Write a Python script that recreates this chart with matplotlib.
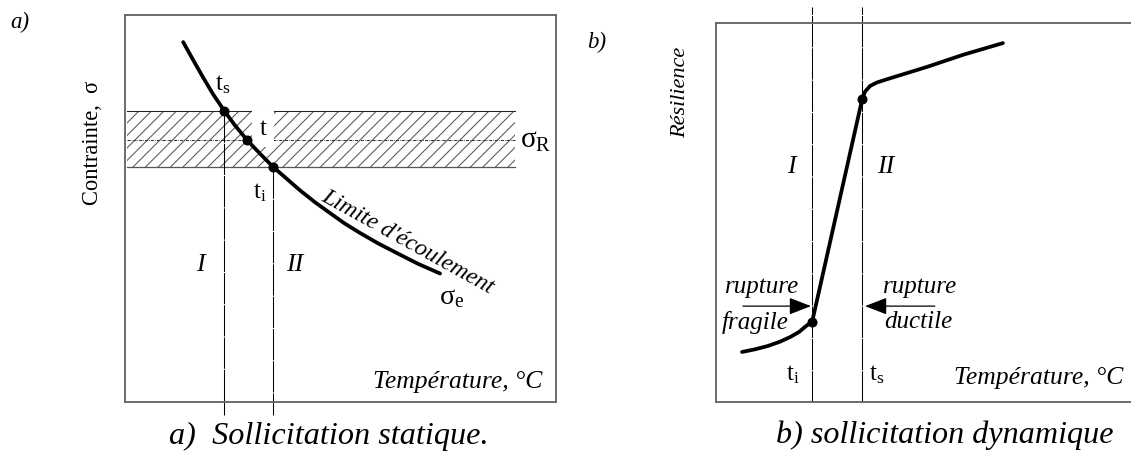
import matplotlib
matplotlib.use('Agg')
import matplotlib.pyplot as plt
from matplotlib.patches import Rectangle

plt.rcParams['font.family'] = ['Liberation Serif', 'DejaVu Serif']
plt.rcParams['mathtext.fontset'] = 'custom'
plt.rcParams['mathtext.rm'] = 'Liberation Serif'
plt.rcParams['mathtext.it'] = 'Liberation Serif:italic'
plt.rcParams['hatch.linewidth'] = 0.5

# ---------------- Panel a : static loading ----------------
temp_a = [13.5, 15.8, 18.1, 20.4, 23.0, 25.5, 28.3, 31.3, 34.3, 37.4, 40.6, 44.1,
          47.6, 51.0, 54.5, 58.7, 62.7, 68.0, 73.1]
stress_a = [93.0, 88.4, 83.9, 79.6, 75.3, 71.5, 67.7, 64.2, 60.8, 57.8, 54.7, 51.6,
            48.8, 46.1, 43.7, 41.0, 38.7, 35.7, 33.2]
band_low, band_high = 60.8, 75.3
sigma_R = 67.7
band_x = [0.5, 90.5]
t_temp_a = [23.0, 28.3, 34.3]      # t_s, t, t_i
t_stress_a = [75.3, 67.7, 60.8]

# ---------------- Panel b : dynamic loading ----------------
temp_b = [6.2, 9.3, 12.4, 15.2, 17.6, 19.8, 21.4, 22.9, 34.8, 35.5, 36.7, 38.3,
          41.4, 50.2, 58.8, 68.3]
resil_b = [13.2, 13.9, 14.8, 15.9, 17.1, 18.5, 20.0, 21.2, 79.9, 81.9, 83.4, 84.3,
           85.4, 88.4, 91.6, 94.7]
t_i_b, t_s_b = 22.9, 34.8
pts_b_temp = [22.9, 34.8]
pts_b_res = [21.2, 79.9]

W, H, DPI = 1131, 453, 150
fig = plt.figure(figsize=(W / DPI, H / DPI), dpi=DPI)


def rect(l, t, r, b):
    return [l / W, 1 - b / H, (r - l) / W, (b - t) / H]


axA = fig.add_axes(rect(125, 15, 556, 402))
axB = fig.add_axes(rect(716, 23, 1136, 402))
for ax in (axA, axB):
    ax.set_xlim(0, 100)
    ax.set_ylim(0, 100)
    ax.set_xticks([])
    ax.set_yticks([])
    for s in ax.spines.values():
        s.set_color('#666666')
        s.set_linewidth(0.9)

# ---- panel a drawing
axA.add_patch(Rectangle((band_x[0], band_low), band_x[1] - band_x[0], band_high - band_low,
                        fill=False, hatch='////', edgecolor='#555555', linewidth=0, zorder=1))
axA.plot(band_x, [band_high, band_high], color='#222222', lw=0.5, zorder=2)
axA.plot(band_x, [band_low, band_low], color='#555555', lw=0.6, zorder=2)
axA.plot(band_x, [sigma_R, sigma_R], color='#333333', lw=0.5, ls=(0, (3, 1, 0.6, 1)), zorder=2)
axA.plot(temp_a, stress_a, color='black', lw=1.8, solid_capstyle='round',
         solid_joinstyle='round', zorder=4)
axA.plot(t_temp_a, t_stress_a, 'o', color='black', ms=3.8, zorder=5)
axA.plot([t_temp_a[0]] * 2, [t_stress_a[0], -3.4], color='black', lw=0.5,
         ls=(0, (30, 1)), clip_on=False)
axA.plot([t_temp_a[2]] * 2, [t_stress_a[2], -3.4], color='black', lw=0.5,
         ls=(0, (30, 1)), clip_on=False)

axA.text(22.7, 81.9, r'$\mathrm{t}_{\mathrm{s}}$', fontsize=12, ha='center', va='center')
axA.text(32.0, 70.6, 't', fontsize=12, ha='center', va='center', zorder=3,
         bbox=dict(facecolor='white', edgecolor='none', pad=3.5))
axA.text(31.3, 54.0, r'$\mathrm{t}_{\mathrm{i}}$', fontsize=12, ha='center', va='center')
axA.text(91.6, 67.4, r'$\mathrm{σ}_{\mathrm{R}}$', fontsize=14, ha='left', va='center')
axA.text(75.9, 27.1, r'$\mathrm{σ}_{\mathrm{e}}$', fontsize=13.5, ha='center', va='center')
axA.text(17.4, 35.4, 'I', fontsize=12.5, style='italic', ha='center', va='center')
axA.text(39.4, 35.4, 'II', fontsize=12.5, style='italic', ha='center', va='center')
axA.text(65.6, 41.4, "Limite d'écoulement", fontsize=11.5, style='italic',
         ha='center', va='center', rotation=-29, rotation_mode='anchor')
axA.text(96.8, 5.2, 'Température, °C', fontsize=12.3, style='italic', ha='right', va='center')

# ---- panel b drawing
for tx in (t_i_b, t_s_b):
    axB.plot([tx, tx], [0, 104.2], color='black', lw=0.5, ls=(0, (30, 1)), clip_on=False)
axB.plot(temp_b, resil_b, color='black', lw=1.8, solid_capstyle='round',
         solid_joinstyle='round', zorder=4)
axB.plot(pts_b_temp, pts_b_res, 'o', color='black', ms=3.8, zorder=5)
axB.annotate('', xy=(22.6, 25.3), xytext=(6.4, 25.3),
             arrowprops=dict(arrowstyle='-|>,head_length=0.9,head_width=0.35',
                             color='black', lw=0.6, shrinkA=0, shrinkB=0))
axB.annotate('', xy=(35.5, 25.3), xytext=(52.1, 25.3),
             arrowprops=dict(arrowstyle='-|>,head_length=0.9,head_width=0.35',
                             color='black', lw=0.6, shrinkA=0, shrinkB=0))
axB.text(11.0, 30.3, 'rupture', fontsize=12, style='italic', ha='center', va='center')
axB.text(9.3, 21.1, 'fragile', fontsize=12, style='italic', ha='center', va='center')
axB.text(48.6, 30.3, 'rupture', fontsize=12, style='italic', ha='center', va='center')
axB.text(48.1, 21.1, 'ductile', fontsize=12, style='italic', ha='center', va='center')
axB.text(17.9, 62.0, 'I', fontsize=12.5, style='italic', ha='center', va='center')
axB.text(40.5, 62.0, 'II', fontsize=12.5, style='italic', ha='center', va='center')
axB.text(18.3, 7.1, r'$\mathrm{t}_{\mathrm{i}}$', fontsize=12, ha='center', va='center')
axB.text(38.3, 7.1, r'$\mathrm{t}_{\mathrm{s}}$', fontsize=12, ha='center', va='center')
axB.text(96.9, 6.3, 'Température, °C', fontsize=12.3, style='italic', ha='right', va='center')

# ---- figure-level labels
fig.text(92 / W, 1 - 143 / H, 'Contrainte,  σ', fontsize=10.8, rotation=90,
         ha='center', va='center')
fig.text(681 / W, 1 - 92 / H, 'Résilience', fontsize=10.7, style='italic', rotation=90,
         ha='center', va='center')
fig.text(20 / W, 1 - 22 / H, 'a)', fontsize=11, style='italic', ha='center', va='center')
fig.text(597 / W, 1 - 42 / H, 'b)', fontsize=11, style='italic', ha='center', va='center')
fig.text(329 / W, 1 - 436 / H, 'a)  Sollicitation statique.', fontsize=15.5, style='italic',
         ha='center', va='center')
fig.text(945 / W, 1 - 435 / H, 'b) sollicitation dynamique', fontsize=15.4, style='italic',
         ha='center', va='center')

fig.savefig('out.png', dpi=DPI)
